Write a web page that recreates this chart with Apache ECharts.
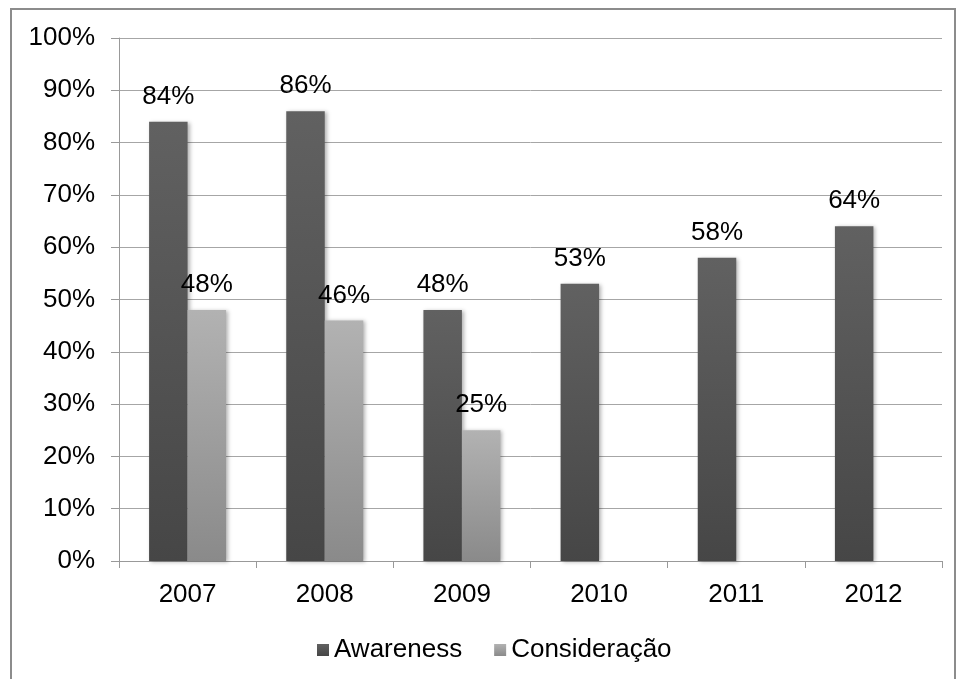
<!DOCTYPE html>
<html>
<head>
<meta charset="utf-8">
<script src="https://cdn.jsdelivr.net/npm/echarts@6/dist/echarts.min.js"></script>
<style>
  html, body { margin: 0; padding: 0; background: #fff; }
  #main { position: absolute; left: 0; top: 0; width: 958px; height: 679px; }
  .frame { position: absolute; left: 10px; top: 8px; width: 942px; height: 700px; border: 2px solid #8c8c8c; }
</style>
</head>
<body>
<div class="frame"></div>
<div id="main"></div>
<script>
// dados
const years = ['2007', '2008', '2009', '2010', '2011', '2012']
const awareness = [84, 86, 48, 53, 58, 64]
const consideracao = [48, 46, 25, null, null, null]

const font = 'Liberation Sans, Arial, sans-serif'
const fs = 26

const grad = (top, bottom) => ({
  type: 'linear', x: 0, y: 0, x2: 0, y2: 1,
  colorStops: [{ offset: 0, color: top }, { offset: 1, color: bottom }]
})

const barLabel = {
  show: true,
  position: 'top',
  distance: 12,
  formatter: '{c}%',
  color: '#000',
  fontSize: fs,
  fontFamily: font
}

const chart = echarts.init(document.getElementById('main'))
chart.setOption({
  animation: false,
  backgroundColor: 'transparent',
  grid: { left: 119, top: 38, right: 16, bottom: 118 },
  legend: {
    top: 632,
    left: 312,
    itemWidth: 12,
    itemHeight: 12,
    itemGap: 32,
    icon: 'rect',
    textStyle: { fontSize: fs, fontFamily: font, color: '#000' },
    data: ['Awareness', 'Consideração']
  },
  xAxis: {
    type: 'category',
    data: years,
    axisLine: { lineStyle: { color: '#999', width: 1 } },
    axisTick: { show: true, length: 7, lineStyle: { color: '#999' } },
    axisLabel: { fontSize: fs, fontFamily: font, color: '#000', margin: 21 }
  },
  yAxis: {
    type: 'value',
    min: 0,
    max: 100,
    interval: 10,
    axisLine: { show: true, lineStyle: { color: '#999', width: 1 } },
    axisTick: { show: true, length: 8, lineStyle: { color: '#999' } },
    splitLine: { lineStyle: { color: '#a6a6a6', width: 1 } },
    axisLabel: { formatter: '{value}%', fontSize: fs, fontFamily: font, color: '#000', margin: 24 }
  },
  series: [
    {
      name: 'Awareness',
      type: 'bar',
      data: awareness,
      barWidth: 38.5,
      barGap: '0%',
      itemStyle: {
        color: grad('#616161', '#464646'),
        shadowBlur: 4,
        shadowOffsetX: 2,
        shadowOffsetY: 1,
        shadowColor: 'rgba(0,0,0,0.3)'
      },
      label: barLabel
    },
    {
      name: 'Consideração',
      type: 'bar',
      data: consideracao,
      barWidth: 38.5,
      barGap: '0%',
      itemStyle: {
        color: grad('#b2b2b2', '#8a8a8a'),
        shadowBlur: 4,
        shadowOffsetX: 2,
        shadowOffsetY: 1,
        shadowColor: 'rgba(0,0,0,0.3)'
      },
      label: barLabel
    }
  ]
})
</script>
</body>
</html>
